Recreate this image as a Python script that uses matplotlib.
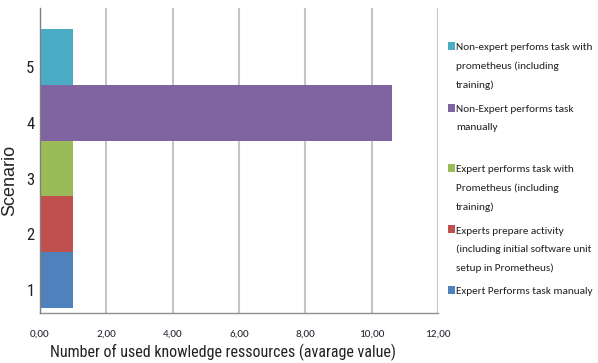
import matplotlib
matplotlib.use("Agg")
import matplotlib.pyplot as plt
from matplotlib.patches import Rectangle
from matplotlib.transforms import ScaledTranslation

scenarios = [1, 2, 3, 4, 5]
values = [1.0, 1.0, 1.0, 10.6, 1.0]
colors = ["#4F81BD", "#C0504D", "#9BBB59", "#8064A2", "#4BACC6"]
labels = [
    "Expert Performs task manualy",
    "Experts prepare activity\n(including initial software unit\nsetup in Prometheus)",
    "Expert performs task with\nPrometheus (including\ntraining)",
    "Non-Expert performs task\nmanually",
    "Non-expert perfoms task with\nprometheus (including\ntraining)",
]
xticks = [0, 2, 4, 6, 8, 10, 12]
xticklabels = ["0,00", "2,00", "4,00", "6,00", "8,00", "10,00", "12,00"]
xlabel = "Number of used knowledge ressources (avarage value)"
ylabel = "Scenario"

COND = ["Roboto Condensed", "Liberation Sans", "DejaVu Sans"]
CALI = ["Carlito", "Liberation Sans", "DejaVu Sans"]
ARIAL = ["Liberation Sans", "DejaVu Sans"]

W, H = 598, 363
fig = plt.figure(figsize=(W / 100, H / 100), dpi=100)
ax = fig.add_axes([40 / W, 1 - 313 / H, 398 / W, 305 / H])

ax.barh(scenarios, values, height=1.0, color=colors, edgecolor="none", zorder=2)
ax.set_xlim(0, 12)
ax.set_ylim(0.41, 5.88)

ax.set_xticks(xticks)
ax.set_xticklabels(xticklabels, fontfamily=CALI, fontsize=8, color="#22222e")
ax.set_yticks(scenarios)
ax.set_yticklabels([str(s) for s in scenarios], fontfamily=COND, fontsize=12, color="#222222")
ax.tick_params(axis="both", length=0)
ax.tick_params(axis="x", pad=12)
ax.tick_params(axis="y", pad=4)
for lab in ax.get_yticklabels():
    lab.set_transform(lab.get_transform() + ScaledTranslation(0, -10 / 100, fig.dpi_scale_trans))

ax.grid(axis="x", color="#c4c4c4", linewidth=1.5, zorder=0)
ax.set_axisbelow(True)
for s in ["top", "right"]:
    ax.spines[s].set_visible(False)
ax.spines["left"].set_color("#808080")
ax.spines["bottom"].set_color("#909090")
ax.spines["left"].set_linewidth(1.0)
ax.spines["bottom"].set_linewidth(1.0)
ax.spines["left"].set_zorder(3)

ax.set_xlabel(xlabel, fontfamily=COND, fontsize=11.5, color="#222222")
ax.xaxis.set_label_coords(0.46, -0.102)
ax.set_ylabel(ylabel, fontfamily=ARIAL, fontsize=13, color="#222222")
ax.yaxis.set_label_coords(-0.055, 0.436)

# legend entries (top-down order as in the reference)
sq_tops = [42, 104, 164, 225, 286]
order = [4, 3, 2, 1, 0]
for top, idx in zip(sq_tops, order):
    fig.add_artist(Rectangle((447.5 / W, 1 - (top + 8) / H), 7 / W, 8 / H,
                             transform=fig.transFigure, facecolor=colors[idx],
                             edgecolor="none"))
    fig.text(456 / W, 1 - (top + 1.5) / H, labels[idx], fontfamily=CALI,
             fontsize=8.1, va="top", ha="left", linespacing=2.2, color="#222222")

fig.savefig("out.png", dpi=100)
